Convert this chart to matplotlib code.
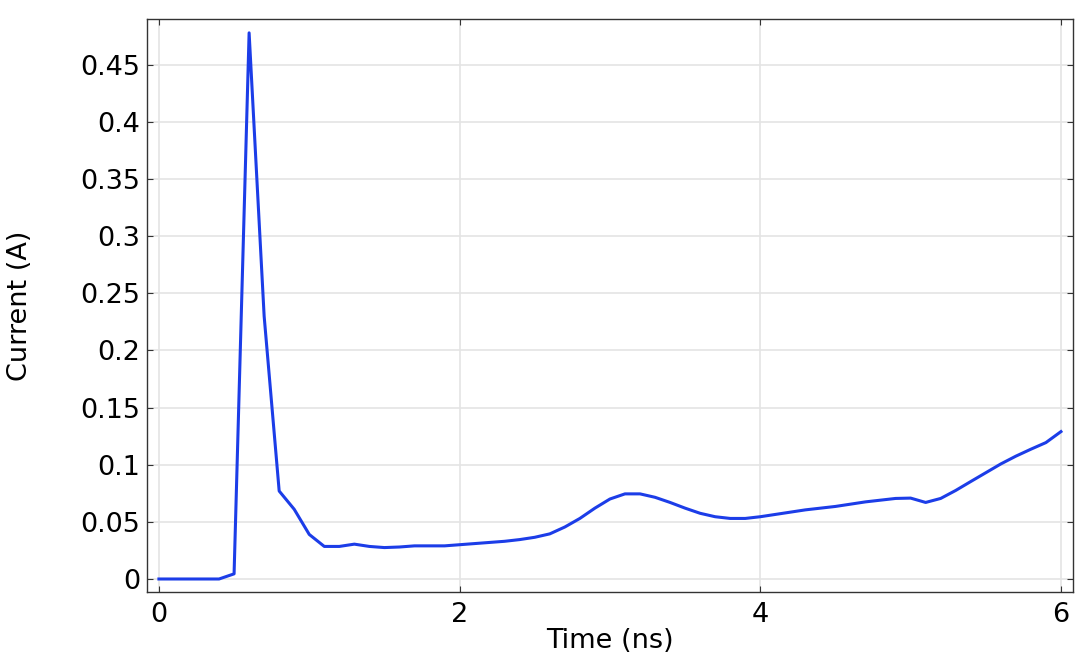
import matplotlib
matplotlib.use("Agg")
import matplotlib.pyplot as plt
from matplotlib.ticker import FuncFormatter

# time samples (ns) and current (A)
time_ns = [0.0, 0.1, 0.2, 0.3, 0.4, 0.5, 0.6, 0.7, 0.8, 0.9,
           1.0, 1.1, 1.2, 1.3, 1.4, 1.5, 1.6, 1.7, 1.8, 1.9,
           2.0, 2.1, 2.2, 2.3, 2.4, 2.5, 2.6, 2.7, 2.8, 2.9,
           3.0, 3.1, 3.2, 3.3, 3.4, 3.5, 3.6, 3.7, 3.8, 3.9,
           4.0, 4.1, 4.2, 4.3, 4.4, 4.5, 4.6, 4.7, 4.8, 4.9,
           5.0, 5.1, 5.2, 5.3, 5.4, 5.5, 5.6, 5.7, 5.8, 5.9, 6.0]
current = [0.0, 0.0, 0.0, 0.0, 0.0, 0.0045, 0.478, 0.230, 0.077, 0.061,
           0.039, 0.0285, 0.0285, 0.0305, 0.0285, 0.0275, 0.028, 0.029, 0.029, 0.029,
           0.030, 0.031, 0.032, 0.033, 0.0345, 0.0365, 0.0395, 0.0455, 0.053, 0.062,
           0.070, 0.0745, 0.0745, 0.0715, 0.067, 0.062, 0.0575, 0.0545, 0.053, 0.053,
           0.0545, 0.0565, 0.0585, 0.0605, 0.062, 0.0635, 0.0655, 0.0675, 0.069, 0.0705,
           0.0708, 0.067, 0.0705, 0.0775, 0.0853, 0.093, 0.1007, 0.1075, 0.1136, 0.1194, 0.129]

x_ticks = [0, 2, 4, 6]
y_ticks = [0, 0.05, 0.1, 0.15, 0.2, 0.25, 0.3, 0.35, 0.4, 0.45]

plt.rcParams['font.family'] = ['DejaVu Sans']

fig = plt.figure(figsize=(10.8, 6.6), dpi=100)
ax = fig.add_axes([0.136, 0.103, 0.8575, 0.868])

ax.plot(time_ns, current, color='#1c3de8', linewidth=2.2)

ax.set_xlim(-0.08, 6.08)
ax.set_ylim(-0.0114, 0.490)
ax.set_xticks(x_ticks)
ax.set_yticks(y_ticks)
ax.yaxis.set_major_formatter(FuncFormatter(lambda v, p: '%g' % v))
ax.xaxis.set_major_formatter(FuncFormatter(lambda v, p: '%g' % v))

ax.grid(True, color='#e4e4e4', linewidth=1.2)
ax.set_axisbelow(True)
ax.tick_params(direction='in', length=4, width=0.8, top=True, right=True,
               labelsize=19.5, pad=5, colors='#333333', labelcolor='black')
ax.tick_params(axis='x', pad=7)
for s in ax.spines.values():
    s.set_color('#333333')
    s.set_linewidth(1.0)

ax.set_xlabel('Time (ns)', fontsize=19.5, labelpad=0, color='black')
ax.set_ylabel('Current (A)', fontsize=19.5, labelpad=34, color='black')

fig.savefig('out.png', dpi=100)
